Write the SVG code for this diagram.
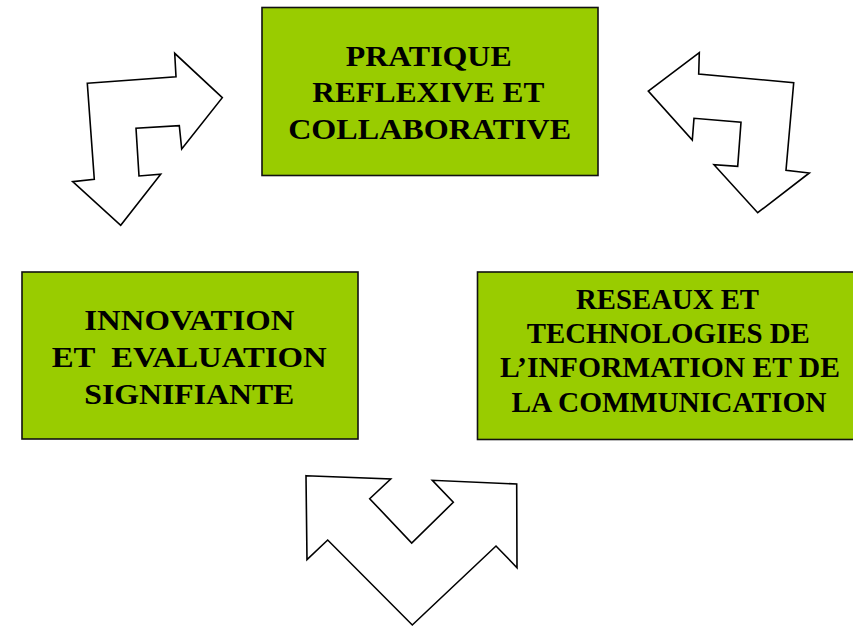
<svg xmlns="http://www.w3.org/2000/svg" width="853" height="627" viewBox="0 0 853 627">
<style>
.box{fill:#99CC00;stroke:#111;stroke-width:1.6}
.t{font-family:"Liberation Serif","Times New Roman",serif;font-weight:bold;font-size:30px;fill:#000;text-anchor:middle;white-space:pre}
.s{font-size:28.5px}
.arr{fill:#fff;stroke:#000;stroke-width:1.6;stroke-linejoin:miter}
</style>
<rect width="853" height="627" fill="#fff"/>
<g id="node-pratique">
<rect class="box" x="262" y="7.5" width="336" height="168"/>
<text class="t" x="428.7" y="65.5" textLength="166" lengthAdjust="spacingAndGlyphs">PRATIQUE</text>
<text class="t" x="428.3" y="102" textLength="232" lengthAdjust="spacingAndGlyphs">REFLEXIVE ET</text>
<text class="t" x="429.7" y="139.3" textLength="283" lengthAdjust="spacingAndGlyphs">COLLABORATIVE</text>
</g>
<g id="node-innovation">
<rect class="box" x="22" y="272" width="336" height="167"/>
<text class="t" x="189.3" y="330" textLength="210" lengthAdjust="spacingAndGlyphs">INNOVATION</text>
<text class="t" x="189.2" y="366.7" textLength="275" lengthAdjust="spacingAndGlyphs">ET  EVALUATION</text>
<text class="t" x="189.3" y="404.3" textLength="210" lengthAdjust="spacingAndGlyphs">SIGNIFIANTE</text>
</g>
<g id="node-reseaux">
<rect class="box" x="477.5" y="272" width="385" height="167.5"/>
<text class="t s" x="667.5" y="309.3" textLength="183" lengthAdjust="spacingAndGlyphs">RESEAUX ET</text>
<text class="t s" x="668.3" y="343.3" textLength="283" lengthAdjust="spacingAndGlyphs">TECHNOLOGIES DE</text>
<text class="t s" x="670" y="376.7" textLength="340" lengthAdjust="spacingAndGlyphs">L’INFORMATION ET DE</text>
<text class="t s" x="669" y="411.7" textLength="315" lengthAdjust="spacingAndGlyphs">LA COMMUNICATION</text>
</g>
<g id="connectors">
<polygon class="arr" points="87.3,83.3 176,76.7 174.7,53.3 222.3,97.7 181.7,149 179.3,125.7 136,128.3 139,176 160.7,174.3 120.7,225.3 72.7,181.7 94.3,179.3"/>
<polygon class="arr" points="699.3,52.7 698.7,74 793.7,82.7 786,170.3 809.3,173 757.7,212.7 714,164.7 737.7,166.3 741,122.3 694,118.3 692.3,140 648.3,91"/>
<polygon class="arr" points="306,475.7 390.7,479 369.7,498.7 411.7,543 453.3,502.3 432.3,480.3 516.7,484 517,567.7 496,546 412.3,625 327.7,540 307,559.7"/>
</g>
</svg>
